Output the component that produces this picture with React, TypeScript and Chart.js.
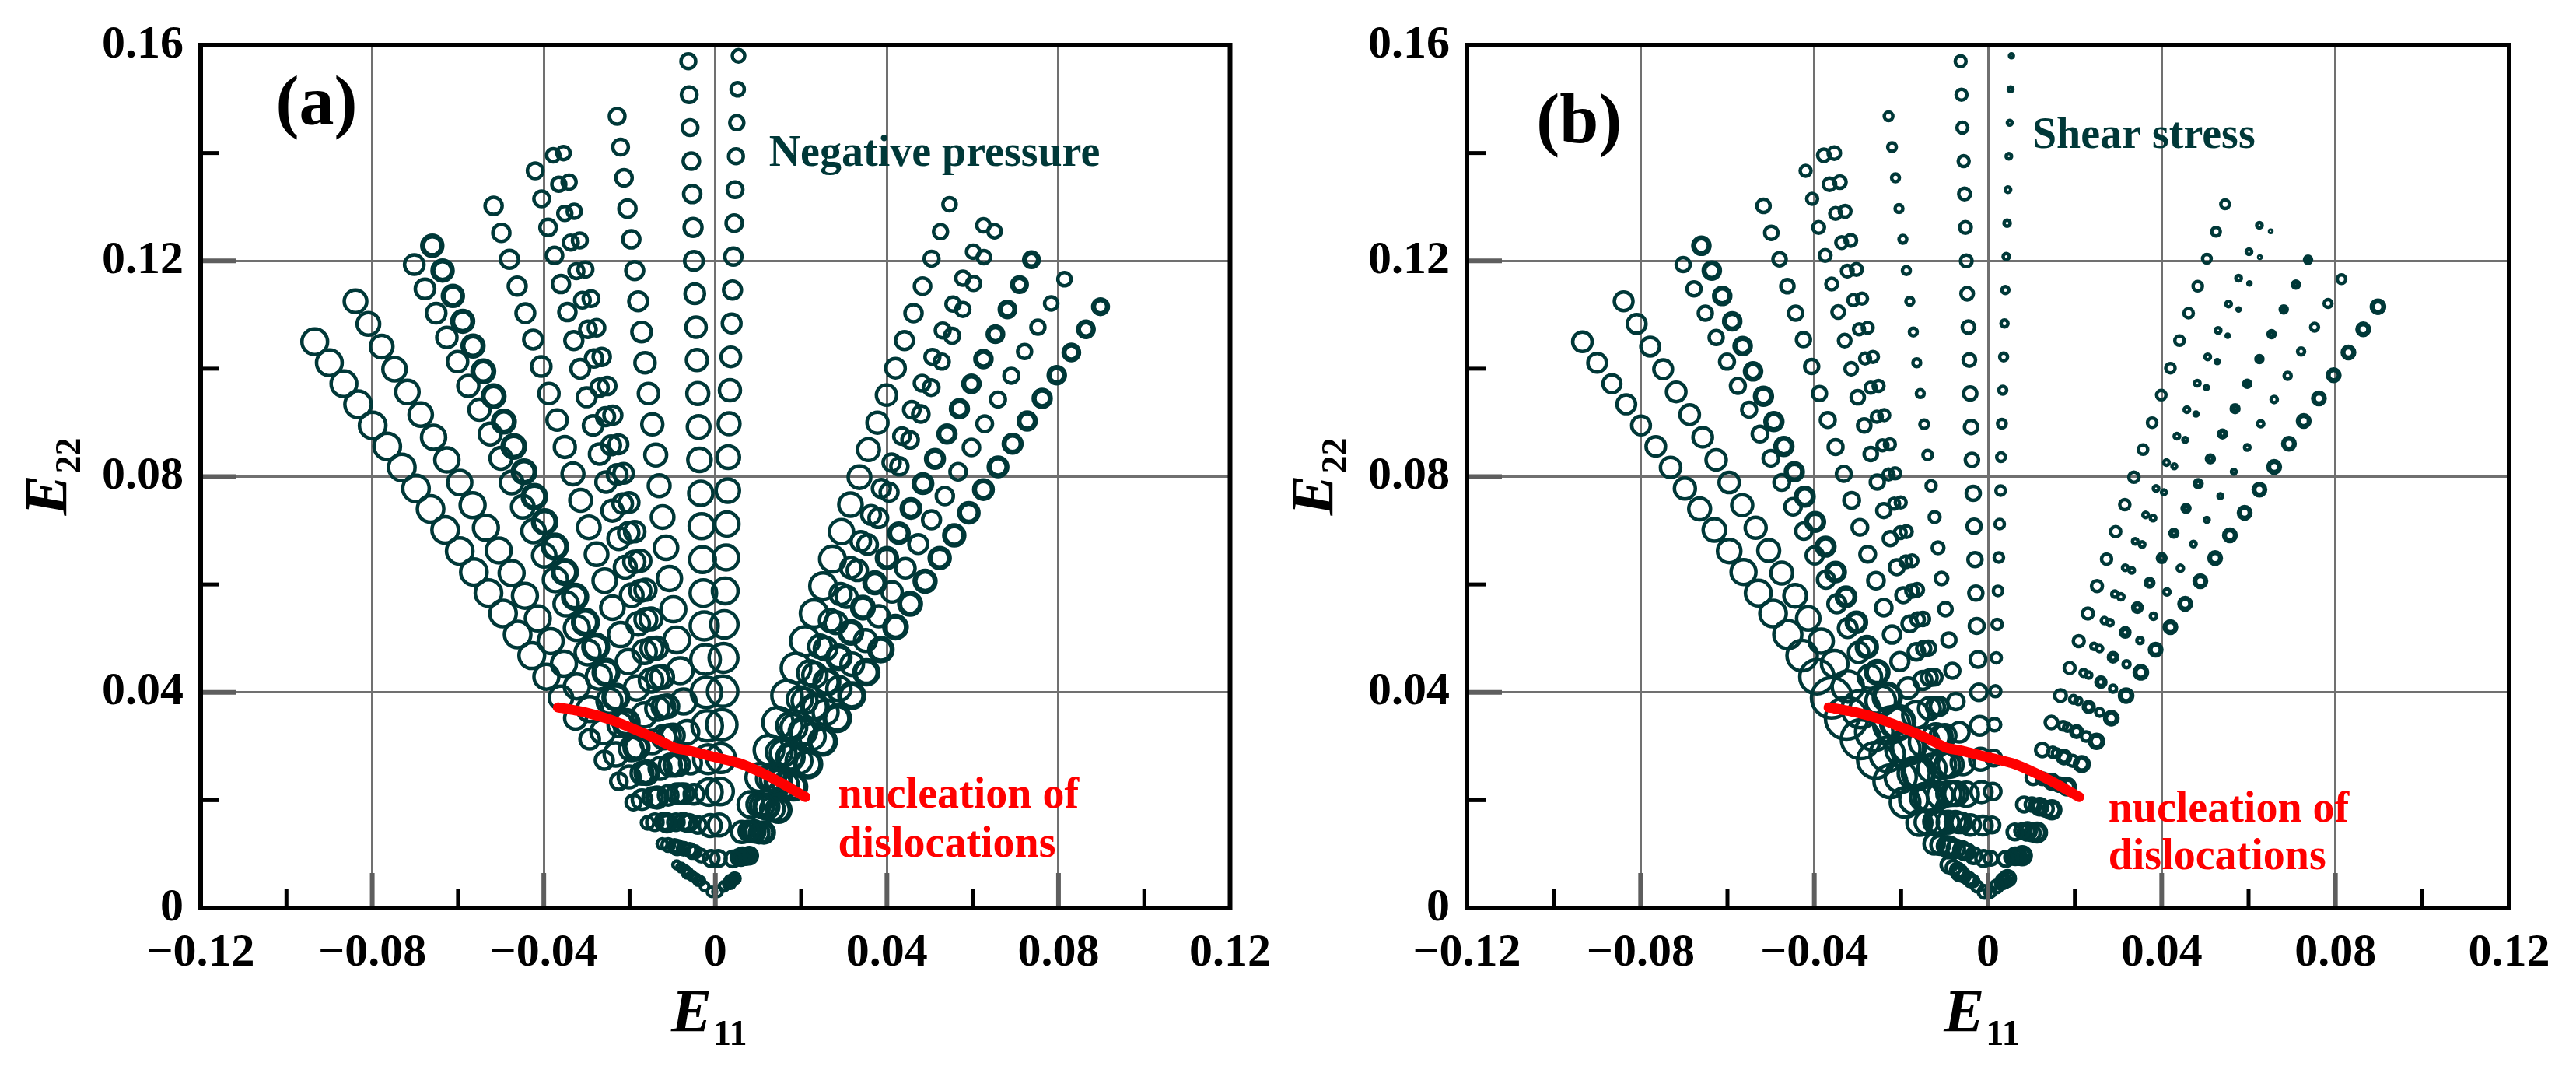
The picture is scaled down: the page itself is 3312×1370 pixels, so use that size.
import React, { useEffect, useRef } from 'react';
import { Chart, registerables } from 'chart.js';

Chart.register(...registerables);

// ---------------- Data ----------------
// Each ray is one loading path; points listed from origin outward.
const R1_E11 = [-0.0090,-0.0124,-0.0158,-0.0191,-0.0225,-0.0259,-0.0293,-0.0326,-0.0360,-0.0394,-0.0428,-0.0461,-0.0495,-0.0529,-0.0563,-0.0596,-0.0630,-0.0664,-0.0698,-0.0731,-0.0765,-0.0799,-0.0833,-0.0866,-0.0900,-0.0934];
const R1_E22 = [0.0080,0.0119,0.0158,0.0196,0.0235,0.0274,0.0313,0.0352,0.0390,0.0429,0.0468,0.0507,0.0546,0.0584,0.0623,0.0662,0.0701,0.0740,0.0778,0.0817,0.0856,0.0895,0.0934,0.0972,0.1011,0.1050];
const R2_E11 = [-0.0080,-0.0110,-0.0141,-0.0171,-0.0201,-0.0232,-0.0262,-0.0293,-0.0323,-0.0353,-0.0384,-0.0414,-0.0444,-0.0475,-0.0505,-0.0535,-0.0566,-0.0596,-0.0626,-0.0657,-0.0687,-0.0718,-0.0748,-0.0778,-0.0809,-0.0839];
const R2_E22 = [0.0075,0.0117,0.0159,0.0201,0.0243,0.0285,0.0327,0.0369,0.0411,0.0453,0.0495,0.0537,0.0579,0.0621,0.0663,0.0705,0.0747,0.0789,0.0831,0.0873,0.0915,0.0957,0.0999,0.1041,0.1083,0.1125];
const R3_E11 = [-0.0070,-0.0095,-0.0121,-0.0146,-0.0171,-0.0196,-0.0222,-0.0247,-0.0272,-0.0298,-0.0323,-0.0348,-0.0373,-0.0399,-0.0424,-0.0449,-0.0475,-0.0500,-0.0525,-0.0550,-0.0576,-0.0601,-0.0626,-0.0651,-0.0677,-0.0702];
const R3_E22 = [0.0070,0.0115,0.0160,0.0205,0.0250,0.0295,0.0340,0.0384,0.0429,0.0474,0.0519,0.0564,0.0609,0.0654,0.0699,0.0744,0.0789,0.0834,0.0879,0.0924,0.0968,0.1013,0.1058,0.1103,0.1148,0.1193];
const R4_E11 = [-0.0065,-0.0089,-0.0113,-0.0136,-0.0160,-0.0184,-0.0208,-0.0232,-0.0255,-0.0279,-0.0303,-0.0327,-0.0351,-0.0374,-0.0398,-0.0422,-0.0446,-0.0470,-0.0493,-0.0517,-0.0541,-0.0565,-0.0589,-0.0612,-0.0636,-0.0660];
const R4_E22 = [0.0065,0.0112,0.0158,0.0205,0.0251,0.0298,0.0344,0.0391,0.0437,0.0484,0.0530,0.0577,0.0623,0.0670,0.0716,0.0763,0.0809,0.0856,0.0902,0.0949,0.0995,0.1042,0.1088,0.1135,0.1182,0.1228];
const R5_E11 = [-0.0055,-0.0074,-0.0092,-0.0110,-0.0129,-0.0147,-0.0166,-0.0184,-0.0203,-0.0221,-0.0240,-0.0258,-0.0277,-0.0295,-0.0314,-0.0332,-0.0351,-0.0369,-0.0388,-0.0406,-0.0425,-0.0443,-0.0462,-0.0480,-0.0499,-0.0517];
const R5_E22 = [0.0060,0.0110,0.0159,0.0209,0.0259,0.0308,0.0358,0.0408,0.0457,0.0507,0.0557,0.0607,0.0656,0.0706,0.0756,0.0805,0.0855,0.0905,0.0954,0.1004,0.1054,0.1103,0.1153,0.1203,0.1252,0.1302];
const R6_E11 = [-0.0045,-0.0060,-0.0075,-0.0090,-0.0105,-0.0120,-0.0135,-0.0150,-0.0165,-0.0180,-0.0195,-0.0210,-0.0225,-0.0240,-0.0255,-0.0270,-0.0285,-0.0300,-0.0315,-0.0330,-0.0345,-0.0360,-0.0375,-0.0390,-0.0405,-0.0420];
const R6_E22 = [0.0055,0.0108,0.0160,0.0212,0.0265,0.0317,0.0370,0.0422,0.0475,0.0527,0.0580,0.0632,0.0685,0.0737,0.0790,0.0842,0.0895,0.0947,0.1000,0.1052,0.1105,0.1157,0.1210,0.1262,0.1315,0.1367];
const R7A_E11 = [-0.0040,-0.0054,-0.0067,-0.0081,-0.0094,-0.0108,-0.0121,-0.0135,-0.0148,-0.0162,-0.0175,-0.0189,-0.0202,-0.0216,-0.0229,-0.0243,-0.0256,-0.0270,-0.0283,-0.0297,-0.0310,-0.0324,-0.0337,-0.0351,-0.0365,-0.0378];
const R7A_E22 = [0.0050,0.0104,0.0158,0.0212,0.0265,0.0319,0.0373,0.0427,0.0481,0.0535,0.0588,0.0642,0.0696,0.0750,0.0804,0.0858,0.0911,0.0965,0.1019,0.1073,0.1127,0.1181,0.1234,0.1288,0.1342,0.1396];
const R7B_E11 = [-0.0035,-0.0048,-0.0061,-0.0073,-0.0086,-0.0099,-0.0112,-0.0124,-0.0137,-0.0150,-0.0163,-0.0175,-0.0188,-0.0201,-0.0214,-0.0226,-0.0239,-0.0252,-0.0265,-0.0277,-0.0290,-0.0303,-0.0316,-0.0329,-0.0341,-0.0354];
const R7B_E22 = [0.0050,0.0104,0.0158,0.0212,0.0266,0.0320,0.0374,0.0428,0.0482,0.0536,0.0590,0.0644,0.0698,0.0752,0.0806,0.0860,0.0914,0.0968,0.1022,0.1076,0.1130,0.1184,0.1238,0.1292,0.1346,0.1400];
const R8_E11 = [-0.0025,-0.0033,-0.0041,-0.0050,-0.0058,-0.0066,-0.0074,-0.0082,-0.0090,-0.0098,-0.0107,-0.0115,-0.0123,-0.0131,-0.0139,-0.0147,-0.0156,-0.0164,-0.0172,-0.0180,-0.0188,-0.0196,-0.0205,-0.0213,-0.0221,-0.0229];
const R8_E22 = [0.0040,0.0097,0.0154,0.0211,0.0269,0.0326,0.0383,0.0440,0.0497,0.0554,0.0611,0.0668,0.0725,0.0783,0.0840,0.0897,0.0954,0.1011,0.1068,0.1125,0.1182,0.1240,0.1297,0.1354,0.1411,0.1468];
const R9_E11 = [-0.0008,-0.0010,-0.0012,-0.0015,-0.0017,-0.0019,-0.0021,-0.0023,-0.0026,-0.0028,-0.0030,-0.0032,-0.0034,-0.0037,-0.0039,-0.0041,-0.0043,-0.0045,-0.0048,-0.0050,-0.0052,-0.0054,-0.0056,-0.0059,-0.0061,-0.0063];
const R9_E22 = [0.0030,0.0092,0.0153,0.0215,0.0276,0.0338,0.0400,0.0461,0.0523,0.0584,0.0646,0.0708,0.0769,0.0831,0.0892,0.0954,0.1016,0.1077,0.1139,0.1200,0.1262,0.1324,0.1385,0.1447,0.1508,0.1570];
const R10_E11 = [0.0005,0.0007,0.0009,0.0011,0.0013,0.0015,0.0017,0.0019,0.0021,0.0023,0.0025,0.0027,0.0029,0.0030,0.0032,0.0034,0.0036,0.0038,0.0040,0.0042,0.0044,0.0046,0.0048,0.0050,0.0052,0.0054];
const R10_E22 = [0.0030,0.0092,0.0154,0.0216,0.0278,0.0340,0.0402,0.0464,0.0526,0.0588,0.0650,0.0712,0.0774,0.0836,0.0898,0.0960,0.1022,0.1084,0.1146,0.1208,0.1270,0.1332,0.1394,0.1456,0.1518,0.1580];
const R11_E11 = [0.0020,0.0041,0.0062,0.0083,0.0104,0.0125,0.0146,0.0167,0.0188,0.0209,0.0230,0.0251,0.0273,0.0294,0.0315,0.0336,0.0357,0.0378,0.0399,0.0420,0.0441,0.0462,0.0483,0.0504,0.0525,0.0546];
const R11_E22 = [0.0040,0.0091,0.0141,0.0192,0.0242,0.0293,0.0344,0.0394,0.0445,0.0495,0.0546,0.0597,0.0647,0.0698,0.0748,0.0799,0.0850,0.0900,0.0951,0.1001,0.1052,0.1103,0.1153,0.1204,0.1254,0.1305];
const R12A_E11 = [0.0030,0.0054,0.0078,0.0101,0.0125,0.0149,0.0173,0.0197,0.0220,0.0244,0.0268,0.0292,0.0316,0.0339,0.0363,0.0387,0.0411,0.0435,0.0458,0.0482,0.0506,0.0530,0.0554,0.0577,0.0601,0.0625];
const R12A_E22 = [0.0045,0.0094,0.0143,0.0192,0.0240,0.0289,0.0338,0.0387,0.0436,0.0485,0.0533,0.0582,0.0631,0.0680,0.0729,0.0778,0.0826,0.0875,0.0924,0.0973,0.1022,0.1071,0.1120,0.1168,0.1217,0.1266];
const R12B_E11 = [0.0035,0.0060,0.0084,0.0109,0.0134,0.0158,0.0183,0.0208,0.0232,0.0257,0.0281,0.0306,0.0331,0.0355,0.0380,0.0405,0.0429,0.0454,0.0479,0.0503,0.0528,0.0552,0.0577,0.0602,0.0626,0.0651];
const R12B_E22 = [0.0045,0.0093,0.0142,0.0190,0.0239,0.0287,0.0335,0.0384,0.0432,0.0481,0.0529,0.0577,0.0626,0.0674,0.0723,0.0771,0.0819,0.0868,0.0916,0.0965,0.1013,0.1061,0.1110,0.1158,0.1207,0.1255];
const R13_E11 = [0.0035,0.0063,0.0091,0.0119,0.0147,0.0175,0.0204,0.0232,0.0260,0.0288,0.0316,0.0344,0.0372,0.0400,0.0428,0.0456,0.0484,0.0512,0.0540,0.0569,0.0597,0.0625,0.0653,0.0681,0.0709,0.0737];
const R13_E22 = [0.0050,0.0096,0.0142,0.0188,0.0234,0.0280,0.0327,0.0373,0.0419,0.0465,0.0511,0.0557,0.0603,0.0649,0.0695,0.0741,0.0787,0.0833,0.0879,0.0926,0.0972,0.1018,0.1064,0.1110,0.1156,0.1202];
const R14_E11 = [0.0040,0.0071,0.0102,0.0133,0.0164,0.0195,0.0226,0.0257,0.0288,0.0319,0.0350,0.0381,0.0412,0.0443,0.0473,0.0504,0.0535,0.0566,0.0597,0.0628,0.0659,0.0690,0.0721,0.0752,0.0783,0.0814];
const R14_E22 = [0.0050,0.0095,0.0139,0.0184,0.0229,0.0273,0.0318,0.0363,0.0407,0.0452,0.0496,0.0541,0.0586,0.0630,0.0675,0.0720,0.0764,0.0809,0.0854,0.0898,0.0943,0.0987,0.1032,0.1077,0.1121,0.1166];
const R15_E11 = [0.0045,0.0079,0.0113,0.0147,0.0182,0.0216,0.0250,0.0284,0.0318,0.0352,0.0386,0.0420,0.0454,0.0489,0.0523,0.0557,0.0591,0.0625,0.0659,0.0693,0.0727,0.0762,0.0796,0.0830,0.0864,0.0898];
const R15_E22 = [0.0055,0.0097,0.0140,0.0182,0.0225,0.0267,0.0309,0.0352,0.0394,0.0437,0.0479,0.0521,0.0564,0.0606,0.0649,0.0691,0.0733,0.0776,0.0818,0.0861,0.0903,0.0945,0.0988,0.1030,0.1073,0.1115];

// Marker radii, panel (a): negative pressure
const R1_A = [5,6.5,8,9.5,10.5,11.5,12.5,14,15,16,16.5,17,17,17,17,17,17,17,17,17,17,17,17,16.5,16.5,16.5];
const R2_A = [5.5,8,10.5,12.5,14,15,15.5,16,16,16,16,16,16,16,16,16,16,15.5,15.5,15.5,15,15,15,14.5,14.5,14.5];
const R3_A = [5.5,8,10.5,12.5,14,15,15.5,16,16,16,16,15.5,15.5,15,15,14.5,14.5,14,14,13.5,13.5,13,13,12.5,12.5,12.5];
const R4_A = [5.5,8,10.5,12.5,14,15,15.5,15.5,15.5,15.5,15.5,15,15,15,14.5,14.5,14,14,13.5,13.5,13.5,13,13,12.5,12.5,12.5];
const R5_A = [5.5,8,10.5,12.5,14,15,15.5,15.5,15.5,15.5,15,15,14.5,14.5,14,14,13.5,13,13,12.5,12,12,11.5,11.5,11,11];
const R6_A = [5.5,8,10.5,12.5,14,15,15,15,15,14.5,14.5,14,14,13.5,13,13,12.5,12,12,11.5,11,11,10.5,10.5,10,10];
const R7_A = [5.5,8,10.5,12.5,14,14.5,14.5,14.5,14,14,13.5,13.5,13,12.5,12.5,12,11.5,11,11,10.5,10,9.5,9.5,9,9,8.5];
const R8_A = [5.5,8,10.5,12.5,14,15,16,16.5,16.5,16,15.5,15,14.5,14,14,13.5,13,13,12.5,12,11.5,11,11,10.5,10,10];
const R9_A = [6,10,14,17,18.5,19.5,19.5,19,18,17,16.5,16,15.5,15,14.5,14,13.5,13,12.5,12,11.5,11,10.5,10,10,9.5];
const R10_A = [6,10,14,17,18.5,19.5,19.5,18.5,17.5,16.5,16,15.5,15,14.5,14,13.5,12.5,12,11.5,11,10.5,10,9.5,9,8.5,8];
const R11_A = [6,10,13.5,16.5,18,19,19.5,19.5,19,18.5,17.5,17,16.5,15.5,15,14.5,14,13.5,13,12.5,11.5,11,10.5,9.5,9,8.5];
const R12_A = [6,9.5,12.5,15,16,16.5,16.5,16,15.5,14.5,14,13.5,13,12.5,12,11.5,11,10.5,10.5,10,9.5,9.5,9,9,8.5,8.5];
const R13_A = [6,9.5,12.5,15,16,16.5,16.5,16,15.5,14.5,14,13.5,13,12.5,12,11.5,11.5,11,10.5,10.5,10,10,9.5,9.5,9,9];
const R14_A = [6,9.5,12.5,15,16,16.5,16.5,16,15.5,14.5,14,13.5,13,12.5,12,11.5,11,10.5,10.5,10,9.5,9.5,9,9,8.5,8.5];
const R15_A = [6,9.5,12.5,15,16,16.5,16.5,16,15.5,15,14.5,14,13.5,13,12.5,12.5,12,11.5,11.5,11,10.5,10.5,10,9.5,9.5,9];

// Marker radii, panel (b): shear stress
const R1_B = [10,13,16,19,21,23,25,27,26,22,19.5,18,17,16.5,16,15,14.5,14,13.5,13,12.5,12,12,11.5,12,12.5];
const R2_B = [9,12,15,18,20,22,24,24,20,17,15.5,15,14.5,14,14,13.5,13.5,13,13,12.5,12.5,12.5,12,12,12,12];
const R3_B = [9,12,15,18,20,22,23,19,15,13,12,11.5,11,11,10.5,10.5,10,10,10,9.5,9.5,9.5,9,9,9,9];
const R4_B = [9,12,15,18,20,21,21,17,14,12.5,12,11.5,11.5,11,11,11,10.5,10.5,10.5,10.5,10,10,10,10,10,10];
const R5_B = [8,11,14,16.5,18,19,17,13,11.5,11,10.5,10.5,10,10,10,9.5,9.5,9.5,9,9,9,9,8.5,8.5,8.5,8.5];
const R6_B = [8,10.5,13,15.5,17,17,14,11.5,10.5,10,9.5,9.5,9,9,9,8.5,8.5,8.5,8,8,8,7.5,7.5,7.5,7,7];
const R7_B = [7.5,10,12.5,15,16,14,11.5,10,9,8.5,8,7.5,7.5,7,7,7,7,7,7,7,7,7.5,7.5,7.5,8,8];
const R8_B = [7,10,13,15.5,15,12.5,10.5,9.5,9,8.5,8,7.5,7,6.5,6,5.5,5,5,5,5,5,5,5,5,5.5,5.5];
const R9_B = [8,10,12,13.5,14,12,10.5,10,9.5,9,9,9,9,8.5,8.5,8.5,8,8,8,7.5,7.5,7.5,7,7,7,7];
const R10_B = [7,8.5,10,10.5,10,8,7,6.5,6.5,6,6,6,6,5.5,5.5,5,5,4.5,4.5,4,4,3.5,3.5,3,3,2.5];
const R11_B = [8,9.5,10,9.5,9,8.5,8,7.5,7,7,7,7,6.5,6.5,6.5,6.5,6,6,6,6,6,6,6,5.5,5.5,5.5];
const R12A_B = [7,8.5,9,8.5,7.5,6.5,5.5,5,4.5,4,4,4,3.5,3.5,3.5,3.5,3.5,3.5,3.5,3.5,3.5,3.5,3.5,3.5,3.5,3.5];
const R12B_B = [6,7.5,8,7.5,6.5,5.5,5,4.5,4,4,4,4,3.5,3.5,3.5,3,3,3,2.5,2.5,2.5,2,2,2,1.5,1.5];
const R13_B = [8,9.5,10,9.5,8.5,7.5,6.5,6,5.5,5,5,5,4.5,4.5,4,4,4,4,4,4,3.5,3.5,3.5,3.5,3.5,3.5];
const R14_B = [8,9.5,10,9.5,8.5,7,6,5,4.5,4.5,4,4,4,4,3.5,3,3,3,3.5,4,4,4.5,4.5,5,5,5.5];
const R15_B = [9,10.5,11,10.5,9.5,8.5,8,7.5,7.5,7.5,7,7,7,7,7,7,7,7,7,7,7,7,7,7,7,7.5];

// Nucleation-of-dislocations boundary (same in both panels)
const RED_E11 = [-0.0367,-0.0310,-0.0247,-0.0190,-0.0141,-0.0095,-0.0062,-0.0007,0.0058,0.0110,0.0160,0.0210];
const RED_E22 = [0.0372,0.0364,0.0350,0.0332,0.0315,0.0297,0.0292,0.0281,0.0268,0.0250,0.0229,0.0206];

// Axes
const X_TICK_LABELS = ['\u22120.12','\u22120.08','\u22120.04','0','0.04','0.08','0.12'];
const Y_TICK_LABELS = ['0','0.04','0.08','0.12','0.16'];
const X_MAJOR_INNER = [-0.08,-0.04,0,0.04,0.08];
const Y_MAJOR_INNER = [0.04,0.08,0.12];
const X_MINOR = [-0.10,-0.06,-0.02,0.02,0.06,0.10];
const Y_MINOR = [0.02,0.06,0.10,0.14];

// Texts
const PANEL_TAGS = ['(a)','(b)'];
const PANEL_NOTES = ['Negative pressure','Shear stress'];
const NUCLEATION_TEXT = ['nucleation of','dislocations'];
const AXIS_X_TITLE = ['E','11'];
const AXIS_Y_TITLE = ['E','22'];

// ---------------- Styling / layout ----------------
const FONT = '"Liberation Serif", "Times New Roman", serif';
const MARK = '#003838';
const W = 1656;
const H = 1370;

type Ray = { e11: number[]; e22: number[]; a: number[]; b: number[]; thick: boolean };
const RAYS: Ray[] = [
  { e11: R1_E11, e22: R1_E22, a: R1_A, b: R1_B, thick: false },
  { e11: R2_E11, e22: R2_E22, a: R2_A, b: R2_B, thick: false },
  { e11: R3_E11, e22: R3_E22, a: R3_A, b: R3_B, thick: false },
  { e11: R4_E11, e22: R4_E22, a: R4_A, b: R4_B, thick: true },
  { e11: R5_E11, e22: R5_E22, a: R5_A, b: R5_B, thick: false },
  { e11: R6_E11, e22: R6_E22, a: R6_A, b: R6_B, thick: false },
  { e11: R7A_E11, e22: R7A_E22, a: R7_A, b: R7_B, thick: false },
  { e11: R7B_E11, e22: R7B_E22, a: R7_A, b: R7_B, thick: false },
  { e11: R8_E11, e22: R8_E22, a: R8_A, b: R8_B, thick: false },
  { e11: R9_E11, e22: R9_E22, a: R9_A, b: R9_B, thick: false },
  { e11: R10_E11, e22: R10_E22, a: R10_A, b: R10_B, thick: false },
  { e11: R11_E11, e22: R11_E22, a: R11_A, b: R11_B, thick: false },
  { e11: R12A_E11, e22: R12A_E22, a: R12_A, b: R12A_B, thick: false },
  { e11: R12B_E11, e22: R12B_E22, a: R12_A, b: R12B_B, thick: false },
  { e11: R13_E11, e22: R13_E22, a: R13_A, b: R13_B, thick: true },
  { e11: R14_E11, e22: R14_E22, a: R14_A, b: R14_B, thick: false },
  { e11: R15_E11, e22: R15_E22, a: R15_A, b: R15_B, thick: true },
];

const LAYOUT = [
  { yAxisWidth: 258, rightPad: 56, tag: { x: -0.1025, y: 0.1453 }, note: { x: 0.0125, y: 0.1376 }, nuc: { x: 0.0286, y1: 0.01856, y2: 0.0095 } },
  { yAxisWidth: 230, rightPad: 86, tag: { x: -0.104, y: 0.142 }, note: { x: 0.0102, y: 0.1409 }, nuc: { x: 0.0277, y1: 0.016, y2: 0.0072 } },
];

function buildDatasets(panel: number) {
  const ds: any[] = [
    {
      type: 'scatter',
      data: RED_E11.map((x, i) => ({ x, y: RED_E22[i] })),
      showLine: true,
      borderColor: '#ff0000',
      borderWidth: 13,
      borderCapStyle: 'round',
      borderJoinStyle: 'round',
      tension: 0.2,
      pointRadius: 0,
      order: 0,
    },
  ];
  RAYS.forEach((r) => {
    ds.push({
      type: 'scatter',
      data: r.e11.map((x, i) => ({ x, y: r.e22[i] })),
      showLine: false,
      pointStyle: 'circle',
      pointRadius: panel === 0 ? r.a : r.b,
      pointBorderWidth: r.thick ? 6.5 : 4.5,
      pointBorderColor: MARK,
      pointBackgroundColor: 'rgba(0,0,0,0)',
      order: 1,
    });
  });
  return ds;
}

function makePlugin(panel: number) {
  return {
    id: 'decor' + panel,
    afterDraw(chart: any) {
      const { ctx, chartArea: ca, scales } = chart;
      const xs = scales.x;
      const ys = scales.y;
      const L = LAYOUT[panel];
      const seg = (x1: number, y1: number, x2: number, y2: number) => {
        ctx.beginPath();
        ctx.moveTo(x1, y1);
        ctx.lineTo(x2, y2);
        ctx.stroke();
      };
      ctx.save();
      // major inner ticks (gray)
      ctx.strokeStyle = '#5e5e5e';
      ctx.lineWidth = 6;
      X_MAJOR_INNER.forEach((v) => {
        const px = xs.getPixelForValue(v);
        seg(px, ca.bottom, px, ca.bottom - 45);
      });
      Y_MAJOR_INNER.forEach((v) => {
        const py = ys.getPixelForValue(v);
        seg(ca.left, py, ca.left + 45, py);
      });
      // minor inner ticks (black)
      ctx.strokeStyle = '#000';
      ctx.lineWidth = 5;
      X_MINOR.forEach((v) => {
        const px = xs.getPixelForValue(v);
        seg(px, ca.bottom, px, ca.bottom - 24);
      });
      Y_MINOR.forEach((v) => {
        const py = ys.getPixelForValue(v);
        seg(ca.left, py, ca.left + 24, py);
      });
      // frame
      ctx.lineWidth = 6;
      ctx.strokeRect(ca.left, ca.top, ca.right - ca.left, ca.bottom - ca.top);

      // axis titles
      ctx.fillStyle = '#000';
      ctx.textBaseline = 'alphabetic';
      ctx.textAlign = 'left';
      const mainFont = 'italic bold 78px ' + FONT;
      const subFont = 'bold 46px ' + FONT;
      // x title
      ctx.font = mainFont;
      const wE = ctx.measureText(AXIS_X_TITLE[0]).width;
      ctx.font = subFont;
      const wS = ctx.measureText(AXIS_X_TITLE[1]).width;
      const cx = (ca.left + ca.right) / 2 - 8;
      const x0 = cx - (wE + wS + 2) / 2;
      ctx.font = mainFont;
      ctx.fillText(AXIS_X_TITLE[0], x0, ca.bottom + 158);
      ctx.font = subFont;
      ctx.fillText(AXIS_X_TITLE[1], x0 + wE + 2, ca.bottom + 176);
      // y title (rotated)
      ctx.save();
      ctx.translate(ca.left - 173, (ca.top + ca.bottom) / 2);
      ctx.rotate(-Math.PI / 2);
      ctx.font = mainFont;
      const wE2 = ctx.measureText(AXIS_Y_TITLE[0]).width;
      ctx.font = subFont;
      const wS2 = ctx.measureText(AXIS_Y_TITLE[1]).width;
      const y0 = -(wE2 + wS2 + 2) / 2;
      ctx.font = mainFont;
      ctx.fillText(AXIS_Y_TITLE[0], y0, 0);
      ctx.font = subFont;
      ctx.fillText(AXIS_Y_TITLE[1], y0 + wE2 + 2, 18);
      ctx.restore();

      // panel tag
      ctx.font = 'bold 90px ' + FONT;
      ctx.fillStyle = '#000';
      ctx.fillText(PANEL_TAGS[panel], xs.getPixelForValue(L.tag.x), ys.getPixelForValue(L.tag.y));
      // note
      ctx.font = 'bold 56px ' + FONT;
      ctx.fillStyle = MARK;
      ctx.fillText(PANEL_NOTES[panel], xs.getPixelForValue(L.note.x), ys.getPixelForValue(L.note.y));
      // nucleation label
      ctx.fillStyle = '#ff0000';
      ctx.fillText(NUCLEATION_TEXT[0], xs.getPixelForValue(L.nuc.x), ys.getPixelForValue(L.nuc.y1));
      ctx.fillText(NUCLEATION_TEXT[1], xs.getPixelForValue(L.nuc.x), ys.getPixelForValue(L.nuc.y2));
      ctx.restore();
    },
  };
}

function Panel({ panel }: { panel: number }) {
  const ref = useRef<HTMLCanvasElement>(null);
  useEffect(() => {
    const L = LAYOUT[panel];
    const tickFont = { family: FONT, size: 60, weight: 'bold' as const };
    const chart = new Chart(ref.current as HTMLCanvasElement, {
      type: 'scatter',
      data: { datasets: buildDatasets(panel) },
      options: {
        animation: false,
        responsive: false,
        events: [],
        layout: { padding: { left: 0, right: L.rightPad, top: 55, bottom: 0 } },
        plugins: { legend: { display: false }, tooltip: { enabled: false } },
        scales: {
          x: {
            type: 'linear',
            min: -0.12,
            max: 0.12,
            border: { display: false },
            grid: { color: '#707070', lineWidth: 3, drawTicks: false },
            ticks: {
              stepSize: 0.04,
              autoSkip: false,
              maxRotation: 0,
              minRotation: 0,
              padding: 22,
              color: '#000',
              font: tickFont,
              callback: (_v: any, i: number) => X_TICK_LABELS[i] ?? '',
            },
            afterFit: (s: any) => {
              s.height = 203;
            },
          },
          y: {
            type: 'linear',
            min: 0,
            max: 0.16,
            border: { display: false },
            grid: { color: '#707070', lineWidth: 3, drawTicks: false },
            ticks: {
              stepSize: 0.04,
              autoSkip: false,
              padding: 22,
              color: '#000',
              font: tickFont,
              callback: (_v: any, i: number) => Y_TICK_LABELS[i] ?? '',
            },
            afterFit: (s: any) => {
              s.width = L.yAxisWidth;
            },
          },
        },
      } as any,
      plugins: [makePlugin(panel)],
    });
    return () => chart.destroy();
  }, [panel]);
  return (
    <canvas
      ref={ref}
      width={W}
      height={H}
      style={{ position: 'absolute', left: panel * W, top: 0, width: W, height: H }}
    />
  );
}

export default function App() {
  return (
    <div style={{ position: 'absolute', left: 0, top: 0, width: 2 * W, height: H, background: '#ffffff' }}>
      <Panel panel={0} />
      <Panel panel={1} />
    </div>
  );
}
